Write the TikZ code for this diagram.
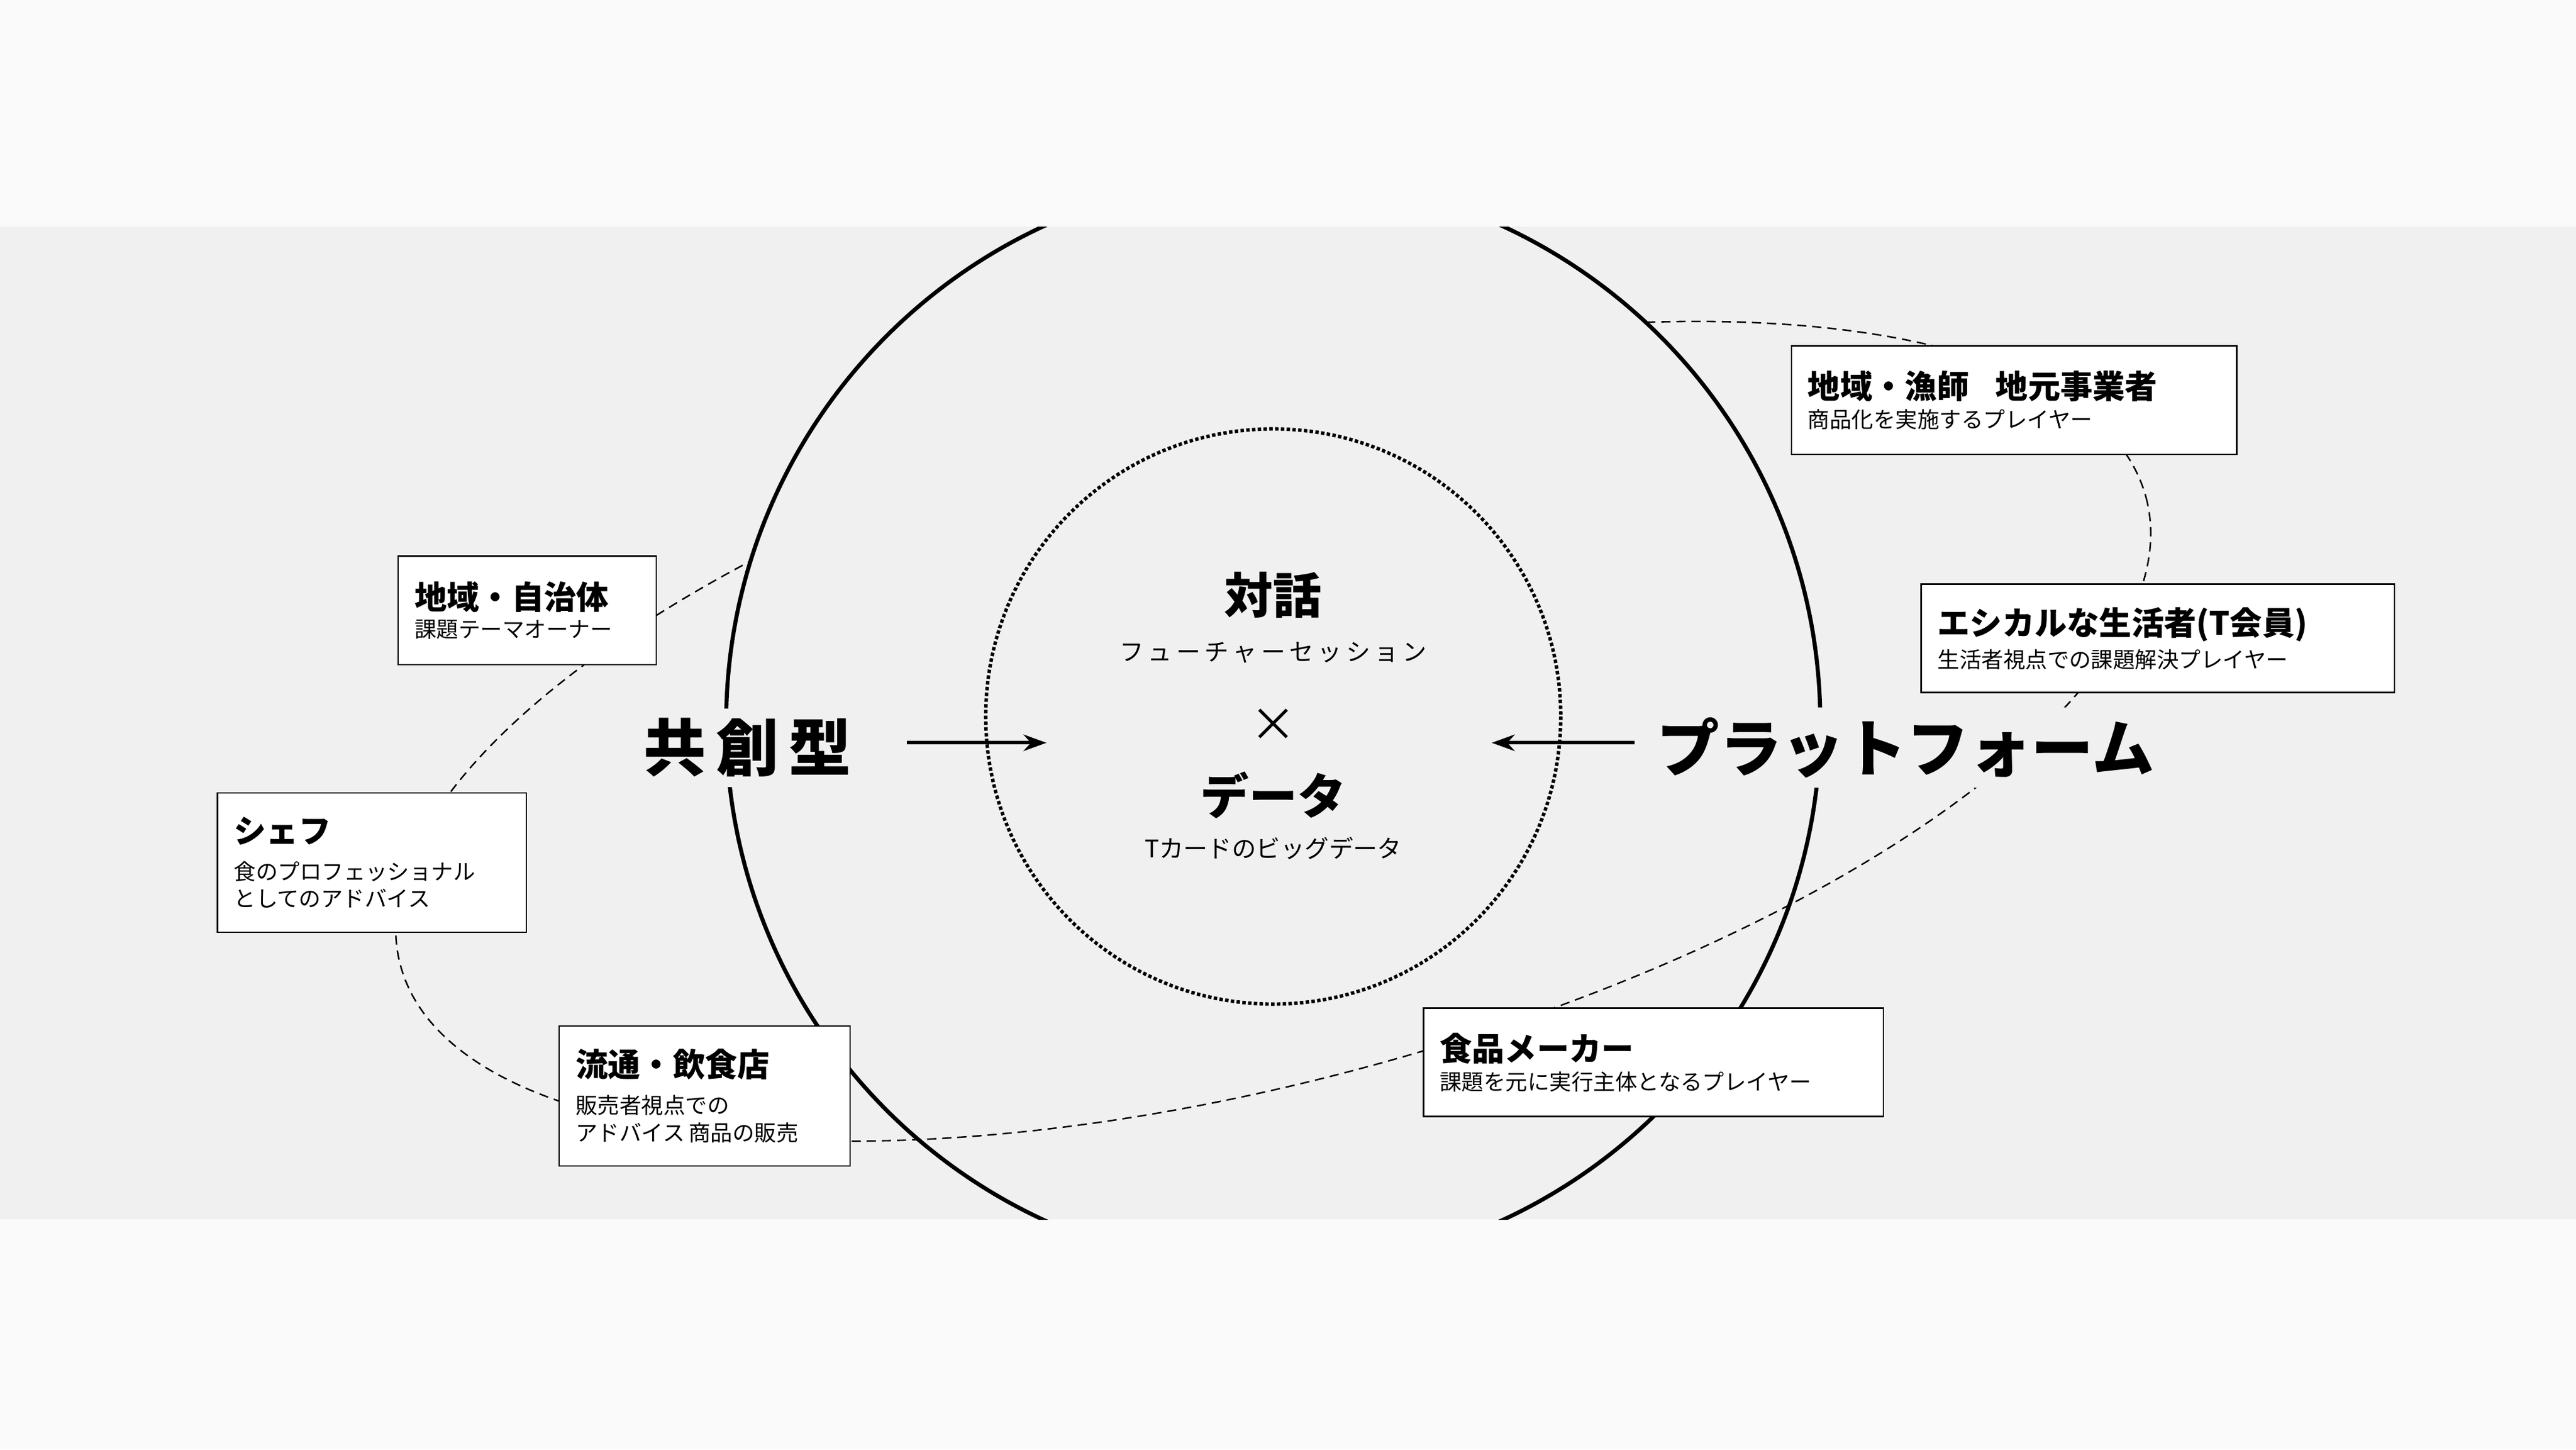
\documentclass[tikz,border=0pt]{standalone}
\usepackage{fontspec}
\setmainfont{Noto Sans CJK JP}
\usetikzlibrary{arrows.meta}
\definecolor{bandgray}{HTML}{F0F0F0}
\definecolor{pagegray}{HTML}{FAFAFA}
\tikzset{
  panel/.style={draw=black, line width=1.2pt, fill=white, anchor=north west, align=left, inner sep=0.5cm},
  bigtext/.style={fill=bandgray, inner sep=0.3cm, font=\bfseries\fontsize{54}{60}\selectfont},
  flow/.style={-{Stealth[length=0.7cm,width=0.5cm]}, line width=3pt},
  orbit/.style={dash pattern=on 0.28cm off 0.18cm, line width=1.3pt},
}
\newcommand{\paneltitle}[1]{{\bfseries\fontsize{28}{34}\selectfont #1}\\[0.2cm]}
\newcommand{\panelsub}{\fontsize{19}{26}\selectfont}
\begin{document}
\begin{tikzpicture}[x=0.05cm,y=-0.05cm]
\useasboundingbox (0,0) rectangle (1568,882);
\fill[pagegray] (0,0) rectangle (1568,882);
\fill[bandgray] (0,138) rectangle (1568,742);

% dashed orbit, passing behind the big circle at the top
\draw[orbit, rotate around={15:(775,445)}] (775,445) ellipse [x radius=550, y radius=212];
\begin{scope}
\clip (0,138) rectangle (1568,742);
\begin{scope}
\clip (0,138) rectangle (1568,430);
\fill[bandgray] (775,440) circle [radius=333];
\end{scope}
\draw[line width=3.5pt] (775,440) circle [radius=333];
\end{scope}
\draw[dotted, line width=3pt] (775,436) circle [radius=175];

% centre
\node[font=\bfseries\fontsize{42}{48}\selectfont] (taiwa) at (775,362) {対話};
\node[font=\fontsize{21}{26}\selectfont] (session) at (775,397) {フ\,ュ\,ー\,チ\,ャ\,ー\,セ\,ッ\,シ\,ョ\,ン};
\node[font=\fontsize{40}{44}\selectfont] (times) at (775,441) {×};
\node[font=\bfseries\fontsize{42}{48}\selectfont] (data) at (775,484) {データ};
\node[font=\fontsize{21}{26}\selectfont] (tcard) at (775,516) {Tカードのビッグデータ};

\node[bigtext] (kyoso) at (455,455) {共\,創\,型};
\node[bigtext] (platform) at (1160,455) {プラットフォーム};
\coordinate (lin) at (637,452);
\coordinate (rin) at (908,452);
\coordinate (lout) at (552,452);
\coordinate (rout) at (995,452);
\draw[flow] (lout) -- (lin);
\draw[flow] (rout) -- (rin);

% players
\node[panel, minimum width=271*0.05cm, minimum height=66*0.05cm, text width=251*0.05cm] (gyoshi) at (1090,210)
  {\paneltitle{地域・漁師\hspace{0.8cm}地元事業者}\panelsub 商品化を実施するプレイヤー};
\node[panel, minimum width=288*0.05cm, minimum height=66*0.05cm, text width=268*0.05cm] (ethical) at (1169,355)
  {\paneltitle{エシカルな生活者(T会員)}\panelsub 生活者視点での課題解決プレイヤー};
\node[panel, minimum width=157*0.05cm, minimum height=66*0.05cm, text width=137*0.05cm] (jichitai) at (242,338)
  {\paneltitle{地域・自治体}\panelsub 課題テーマオーナー};
\node[panel, minimum width=188*0.05cm, minimum height=85*0.05cm, text width=168*0.05cm] (chef) at (132,482)
  {\paneltitle{シェフ}\panelsub 食のプロフェッショナル\\[0.2cm]\panelsub としてのアドバイス};
\node[panel, minimum width=177*0.05cm, minimum height=85*0.05cm, text width=157*0.05cm] (ryutsu) at (340,624)
  {\paneltitle{流通・飲食店}\panelsub 販売者視点での\\[0.2cm]\panelsub アドバイス 商品の販売};
\node[panel, minimum width=280*0.05cm, minimum height=66*0.05cm, text width=260*0.05cm] (maker) at (866,613)
  {\paneltitle{食品メーカー}\panelsub 課題を元に実行主体となるプレイヤー};
\end{tikzpicture}
\end{document}
